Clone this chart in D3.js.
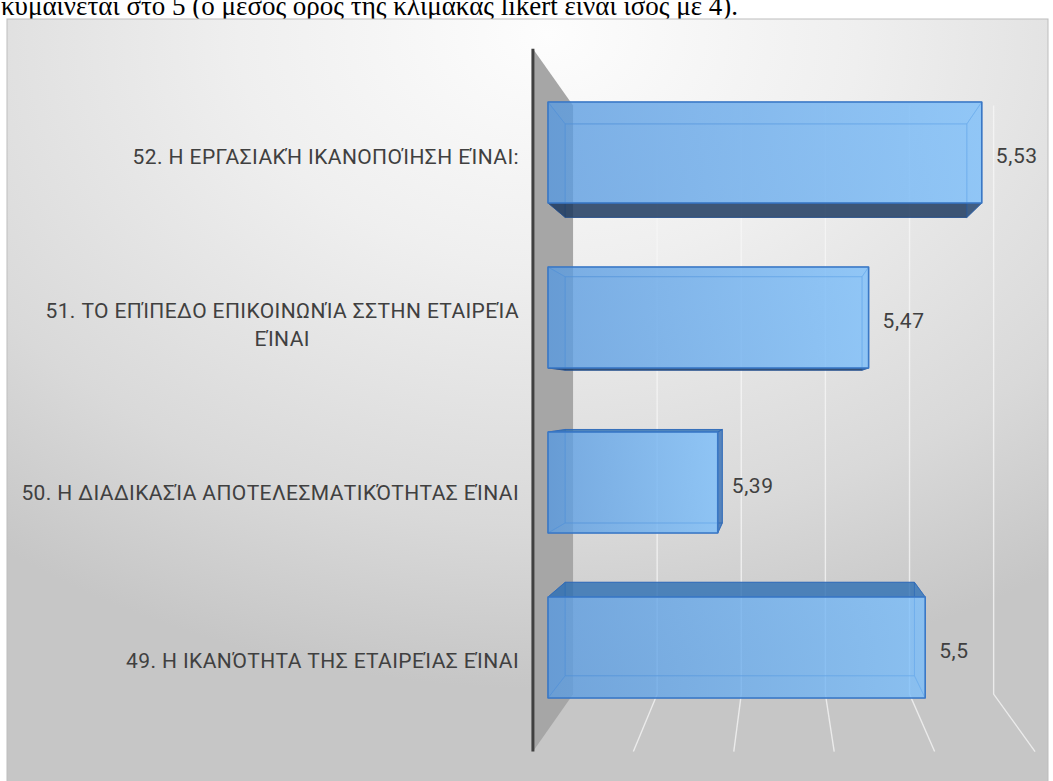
<!DOCTYPE html>
<html>
<head>
<meta charset="utf-8">
<script src="https://cdn.jsdelivr.net/npm/d3@7"></script>
<style>
  html, body { margin: 0; padding: 0; background: #ffffff; overflow: hidden; }
  svg { display: block; }
</style>
</head>
<body>
<svg id="chart" width="1053" height="781"></svg>
<script>
// ---- data ----
const categories = [
  "52. Η ΕΡΓΑΣΙΑΚΉ ΙΚΑΝΟΠΟΊΗΣΗ ΕΊΝΑΙ:",
  "51. ΤΟ ΕΠΊΠΕΔΟ ΕΠΙΚΟΙΝΩΝΊΑ ΣΣΤΗΝ ΕΤΑΙΡΕΊΑ\nΕΊΝΑΙ",
  "50. Η ΔΙΑΔΙΚΑΣΊΑ ΑΠΟΤΕΛΕΣΜΑΤΙΚΌΤΗΤΑΣ ΕΊΝΑΙ",
  "49. Η ΙΚΑΝΌΤΗΤΑ ΤΗΣ ΕΤΑΙΡΕΊΑΣ ΕΊΝΑΙ"
];
const values = [5.53, 5.47, 5.39, 5.5];
const axisRange = [5.3, 5.55];
const axisStep = 0.05;
const caption = "κυμαίνεται στο 5 (ο μέσος όρος της κλίμακας likert είναι ίσος με 4).";

// ---- layout ----
const svg = d3.select("#chart");
const frame = { x: 7, y: 19, w: 1041, h: 770 };

// 3D view: everything is laid out on the bars' front plane and then
// pulled toward / pushed away from the vanishing point by a depth factor.
const V = { x: 780, y: 398 };
const depth = { wallFront: 1.065, barFront: 1, barBack: 0.926, backWall: 0.892 };
const proj = (px, py, s) => [V.x + (px - V.x) * s, V.y + (py - V.y) * s];

const x = d3.scaleLinear().domain(axisRange).range([548, 1019.5]);
const y = d3.scaleBand().domain(categories).range([70, 730])
  .paddingInner(0.388).paddingOuter(0.194);
const labelY = d3.scalePoint().domain(categories).range([157, 661]);

const fmt = d3.formatLocale({ decimal: ",", thousands: ".", grouping: [3], currency: ["", "€"] }).format("~r");

const defs = svg.append("defs");

// chart area background
const bg = defs.append("radialGradient").attr("id", "bgGrad")
  .attr("cx", "0.52").attr("cy", "0.02").attr("r", "0.85")
  .attr("fx", "0.52").attr("fy", "0.02");
bg.append("stop").attr("offset", "0").attr("stop-color", "#fdfdfd");
bg.append("stop").attr("offset", "0.35").attr("stop-color", "#efefef");
bg.append("stop").attr("offset", "0.75").attr("stop-color", "#d9d9d9");
bg.append("stop").attr("offset", "1").attr("stop-color", "#c6c6c6");

const barGrad = defs.append("linearGradient").attr("id", "barGrad")
  .attr("x1", "0").attr("y1", "0").attr("x2", "1").attr("y2", "0");
barGrad.append("stop").attr("offset", "0").attr("stop-color", "rgb(92,156,224)");
barGrad.append("stop").attr("offset", "1").attr("stop-color", "rgb(125,192,252)");

// caption line above the chart, running off the page top
svg.append("text")
  .attr("x", 1).attr("y", 15)
  .attr("font-family", "'Liberation Serif', 'Times New Roman', serif")
  .attr("font-size", 27)
  .attr("fill", "#000")
  .text(caption);

svg.append("rect")
  .attr("x", frame.x).attr("y", frame.y)
  .attr("width", frame.w).attr("height", frame.h)
  .attr("fill", "url(#bgGrad)")
  .attr("stroke", "#bdbdbd").attr("stroke-width", 1);

const poly = pts => pts.map(p => p.join(",")).join(" ");
const [yTop, yBottom] = y.range();
const xMin = x(axisRange[0]);

// gridlines on the back wall and the floor
const ticks = d3.range(axisRange[0] + axisStep, axisRange[1] + axisStep / 2, axisStep);
const grid = svg.append("g").attr("fill", "none")
  .attr("stroke", "#f7f7f7").attr("stroke-width", 1.4);
ticks.forEach(t => {
  const a = proj(x(t), yTop, depth.backWall);
  const b = proj(x(t), yBottom, depth.backWall);
  const c = proj(x(t), yBottom, depth.wallFront);
  grid.append("polyline").attr("points", poly([a, b, c]))
    .attr("stroke-opacity", 0.75);
});

// side wall
svg.append("polygon")
  .attr("points", poly([
    proj(xMin, yTop, depth.wallFront),
    proj(xMin, yTop, depth.backWall),
    proj(xMin, yBottom, depth.backWall),
    proj(xMin, yBottom, depth.wallFront)
  ]))
  .attr("fill", "#a6a6a6");
svg.append("line")
  .attr("x1", proj(xMin, yTop, depth.wallFront)[0])
  .attr("y1", proj(xMin, yTop, depth.wallFront)[1])
  .attr("x2", proj(xMin, yBottom, depth.wallFront)[0])
  .attr("y2", proj(xMin, yBottom, depth.wallFront)[1])
  .attr("stroke", "#404040").attr("stroke-width", 3);

// 3D bars
const bars = svg.append("g");
categories.forEach((cat, i) => {
  const v = values[i];
  const x0 = xMin, x1 = x(v);
  const y0 = y(cat), y1 = y0 + y.bandwidth();
  const F = [[x0, y0], [x1, y0], [x1, y1], [x0, y1]].map(p => proj(p[0], p[1], depth.barFront));
  const B = [[x0, y0], [x1, y0], [x1, y1], [x0, y1]].map(p => proj(p[0], p[1], depth.barBack));
  const g = bars.append("g");
  const hidden = { fill: "rgb(70,140,215)", op: 0.14, stroke: "rgba(45,105,185,0.5)" };

  const face = (pts, style) => g.append("polygon").attr("points", poly(pts))
    .attr("fill", style.fill).attr("fill-opacity", style.op)
    .attr("stroke", style.stroke).attr("stroke-width", 1)
    .attr("stroke-linejoin", "round");

  // back and hidden side faces first, seen through the front
  face(B, hidden);
  face([F[0], B[0], B[3], F[3]], { fill: "rgb(60,125,205)", op: 0.26, stroke: "rgba(45,105,185,0.45)" });
  const topVisible = y0 > V.y, bottomVisible = y1 < V.y, rightVisible = x1 < V.x;
  face([F[0], F[1], B[1], B[0]], topVisible
    ? { fill: "rgb(45,110,178)", op: 0.78, stroke: "rgba(45,105,185,0.8)" } : hidden);
  face([F[3], F[2], B[2], B[3]], bottomVisible
    ? { fill: "rgb(28,55,92)", op: 0.82, stroke: "rgba(40,80,140,0.8)" } : hidden);
  face([F[1], B[1], B[2], F[2]], rightVisible
    ? { fill: "rgb(40,100,175)", op: 0.7, stroke: "rgba(45,105,185,0.8)" } : hidden);

  g.append("polygon").attr("points", poly(F))
    .attr("fill", "url(#barGrad)").attr("fill-opacity", 0.76)
    .attr("stroke", "rgb(58,120,198)").attr("stroke-width", 1.6)
    .attr("stroke-linejoin", "round");

  // value label
  const cy = y0 + y.bandwidth() / 2;
  svg.append("text")
    .attr("x", x1 + 14).attr("y", cy + 3)
    .attr("dominant-baseline", "central")
    .attr("font-family", "Roboto, 'Open Sans', sans-serif")
    .attr("font-size", 21)
    .attr("letter-spacing", 0.6)
    .attr("fill", "#404040")
    .text(fmt(v));
});

// category labels, right-aligned against the wall, multi-line blocks centred
const labelRight = 519;
const lineH = 28;
categories.forEach(cat => {
  const lines = cat.split("\n");
  const t = svg.append("text")
    .attr("font-family", "Roboto, 'Open Sans', sans-serif")
    .attr("font-size", 21)
    .attr("letter-spacing", 0.4)
    .attr("fill", "#404040")
    .attr("text-anchor", lines.length > 1 ? "middle" : "end");
  const spans = lines.map(ln => t.append("tspan").text(ln));
  const widest = d3.max(spans, s => s.node().getComputedTextLength());
  const cx = lines.length > 1 ? labelRight - widest / 2 : labelRight;
  const top = labelY(cat) - (lines.length - 1) * lineH / 2;
  spans.forEach((s, k) => s.attr("x", cx).attr("y", top + k * lineH)
    .attr("dominant-baseline", "central"));
});
</script>
</body>
</html>
